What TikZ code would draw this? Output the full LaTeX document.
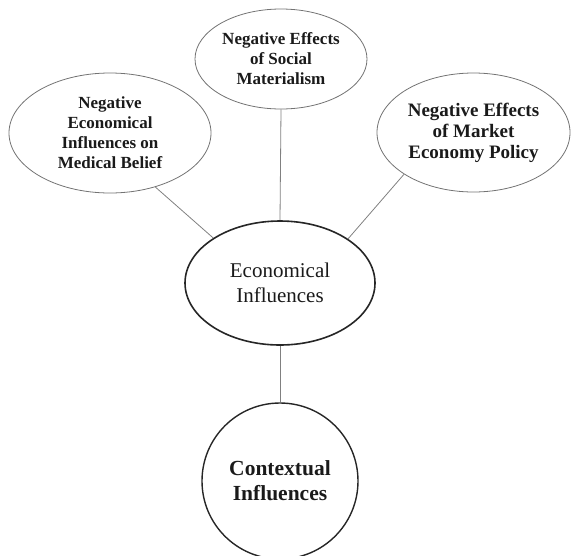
\documentclass[tikz,border=0pt]{standalone}
\usepackage{fontspec}
\setmainfont{Liberation Serif}
\usetikzlibrary{shapes.geometric}
\definecolor{inkdark}{HTML}{1A1A1A}
\begin{document}
\begin{tikzpicture}[x=1pt,y=1pt,
  leaf/.style={ellipse,draw=black!55,line width=0.8pt,inner sep=0pt,align=center,
    text=inkdark,font=\fontsize{17}{20}\selectfont\bfseries},
  hub/.style={ellipse,draw=black!85,line width=1.6pt,inner sep=0pt,align=center,
    text=inkdark,font=\fontsize{21}{25}\selectfont},
  root/.style={circle,draw=black!85,line width=1.4pt,inner sep=0pt,align=center,
    text=inkdark,font=\fontsize{21.5}{25}\selectfont\bfseries},
  link/.style={draw=black!50,line width=0.8pt}]
\useasboundingbox (0,0) rectangle (572,-555);

\node[leaf,minimum width=202,minimum height=120] (medical) at (110,-133)
  {Negative\\Economical\\Influences on\\Medical Belief};
\node[leaf,minimum width=172,minimum height=100] (social) at (281,-59)
  {Negative Effects\\of Social\\Materialism};
\node[leaf,minimum width=193,minimum height=119,
  font=\fontsize{19}{21}\selectfont\bfseries] (market) at (473.5,-132.5)
  {Negative Effects\\of Market\\Economy Policy};
\node[hub,minimum width=190,minimum height=124] (econ) at (280,-283)
  {Economical\\Influences};
\node[root,minimum size=156] (context) at (280,-481)
  {Contextual\\Influences};

\draw[link] (medical.310) -- (econ.146);
\draw[link] (social.south) -- (econ.north);
\draw[link] (market.211) -- (econ.33);
\draw[link] (econ.south) -- (context.north);
\end{tikzpicture}
\end{document}
